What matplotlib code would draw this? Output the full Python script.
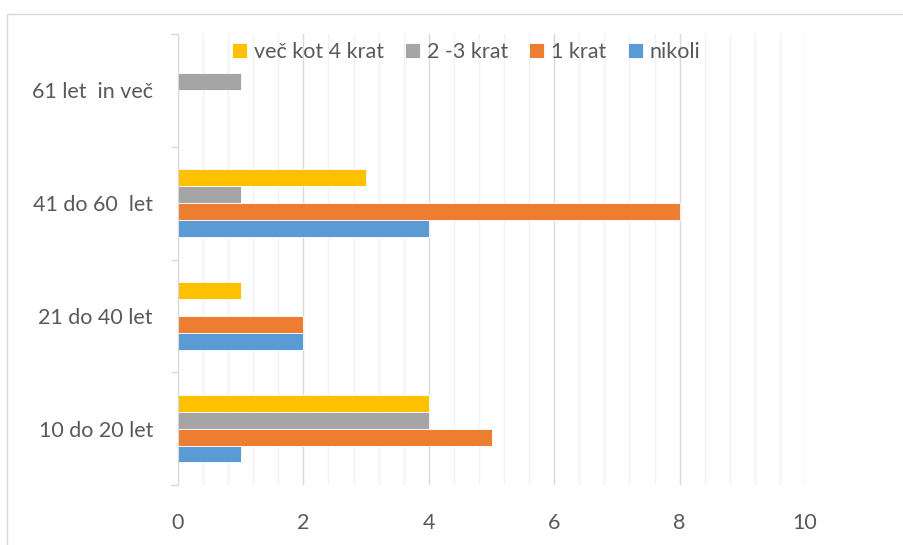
import numpy as np
import matplotlib
matplotlib.use('Agg')
import matplotlib.pyplot as plt
from matplotlib.patches import Rectangle
from matplotlib.ticker import MultipleLocator, FixedLocator

plt.rcParams['font.family'] = ['Lato', 'DejaVu Sans']

categories = ['10 do 20 let', '21 do 40 let', '41 do 60  let', '61 let  in več']
series = ['nikoli', '1 krat', '2 -3 krat', 'več kot 4 krat']
nikoli = [1, 2, 4, 0]
enkrat = [5, 2, 8, 0]
dva_tri = [4, 0, 1, 1]
vec_kot_4 = [4, 1, 3, 0]
colors = ['#5B9BD5', '#ED7D31', '#A5A5A5', '#FFC000']

fig = plt.figure(figsize=(9.04, 5.45), dpi=100)
ax = fig.add_axes([178 / 904, 60 / 545, (805 - 178) / 904, (485 - 34) / 545])

# outer chart frame
fig.patches.append(Rectangle((7 / 904, -0.1), 1.2, 1 - 14 / 545 + 0.1,
                             transform=fig.transFigure, fill=False,
                             edgecolor='#D9D9D9', lw=1.0, clip_on=False))

y = np.arange(len(categories))
h = 0.15
data = [nikoli, enkrat, dva_tri, vec_kot_4]
offsets = [-1.5 * h, -0.5 * h, 0.5 * h, 1.5 * h]
for vals, off, c, name in zip(data, offsets, colors, series):
    ax.barh(y + off, vals, height=h, color=c, edgecolor='white', lw=0.6,
            label=name, zorder=3)

ax.set_xlim(0, 10)
ax.set_ylim(-0.5, len(categories) - 0.5)
ax.xaxis.set_major_locator(MultipleLocator(2))
ax.xaxis.set_minor_locator(MultipleLocator(0.4))
ax.grid(axis='x', which='major', color='#D9D9D9', lw=1.0, zorder=0)
ax.grid(axis='x', which='minor', color='#F2F2F2', lw=1.0, zorder=0)
ax.tick_params(axis='x', which='both', length=0, pad=20, labelsize=15.5,
               labelcolor='#595959')

ax.set_yticks(y)
ax.set_yticklabels(categories)
ax.yaxis.set_minor_locator(FixedLocator(np.arange(-0.5, len(categories), 1)))
ax.tick_params(axis='y', which='major', length=0, pad=18, labelsize=15.5,
               labelcolor='#595959')
ax.tick_params(axis='y', which='minor', length=5, color='#D9D9D9', width=1)

for s in ['top', 'right', 'bottom']:
    ax.spines[s].set_visible(False)
ax.spines['left'].set_color('#D9D9D9')
ax.spines['left'].set_zorder(4)

handles, labels = ax.get_legend_handles_labels()
leg = fig.legend(handles[::-1], labels[::-1], loc='center', ncol=4,
                 bbox_to_anchor=(466 / 904, 1 - 52 / 545), frameon=False,
                 fontsize=15.5, handlelength=0.7, handleheight=0.7,
                 handletextpad=0.3, columnspacing=1.0, labelcolor='#595959')

fig.savefig('out.png', dpi=100)
